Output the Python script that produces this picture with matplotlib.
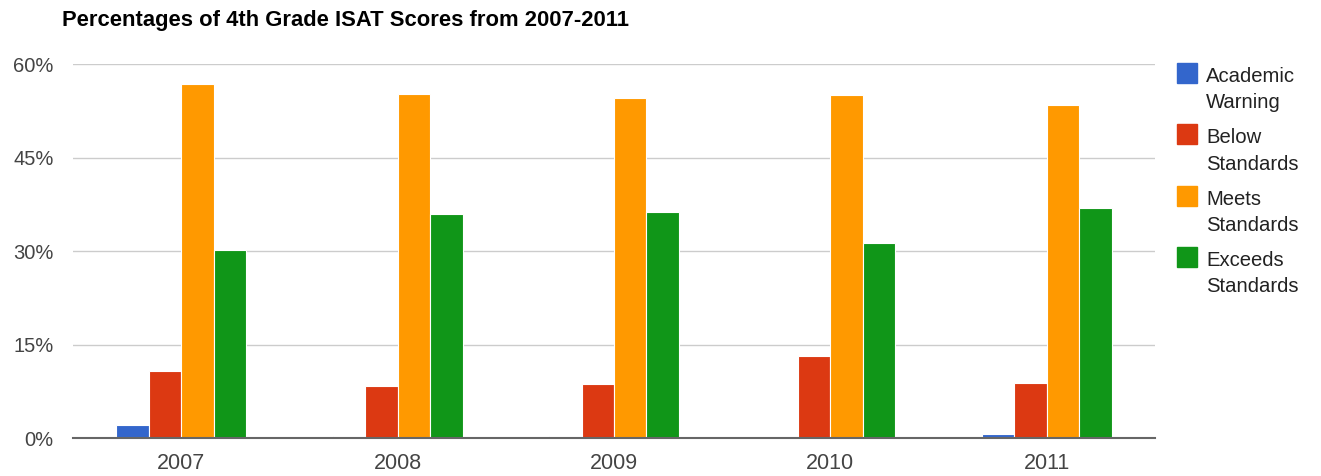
import numpy as np
import matplotlib
matplotlib.use('Agg')
import matplotlib.pyplot as plt
from matplotlib.patches import Rectangle

plt.rcParams['font.family'] = ['Liberation Sans', 'DejaVu Sans']

years = ['2007', '2008', '2009', '2010', '2011']
series = ['Academic\nWarning', 'Below\nStandards', 'Meets\nStandards', 'Exceeds\nStandards']
academic_warning = [2.1, 0.4, 0.4, 0.2, 0.6]
below_standards = [10.8, 8.3, 8.6, 13.2, 8.8]
meets_standards = [56.8, 55.2, 54.6, 55.1, 53.4]
exceeds_standards = [30.2, 35.9, 36.2, 31.3, 36.9]
colors = ['#3366cc', '#dc3912', '#ff9900', '#109618']
yticks = [0, 15, 30, 45, 60]

values = [academic_warning, below_standards, meets_standards, exceeds_standards]

fig = plt.figure(figsize=(13.21, 4.76), dpi=100)
ax = fig.add_axes([0.0553, 0.0798, 0.819, 0.7857])

x = np.arange(len(years))
w = 0.15
for i, vals in enumerate(values):
    ax.bar(x + (i - 1.5) * w, vals, w, color=colors[i], edgecolor='white', linewidth=0.8, zorder=3)

ax.set_xlim(-0.5, len(years) - 0.5)
ax.set_ylim(0, 60)
ax.set_yticks(yticks)
ax.set_yticklabels([str(t) + '%' for t in yticks])
ax.set_xticks(x)
ax.set_xticklabels(years)
ax.tick_params(axis='both', length=0, colors='#444444')
ax.tick_params(axis='y', pad=14, labelsize=14.5)
ax.tick_params(axis='x', pad=11, labelsize=15.5)
ax.grid(axis='y', color='#cccccc', linewidth=1, zorder=0)
for s in ['top', 'right', 'left']:
    ax.spines[s].set_visible(False)
ax.spines['bottom'].set_color('#666666')
ax.spines['bottom'].set_linewidth(1.5)
ax.spines['bottom'].set_zorder(4)

fig.text(0.047, 0.978, 'Percentages of 4th Grade ISAT Scores from 2007-2011',
         fontsize=15.8, fontweight='bold', va='top', ha='left', color='#000000')

# legend drawn by hand so the swatch sits on the first line
W, H = 1321.0, 476.0
for i, label in enumerate(series):
    top = 63 + i * 61.3
    fig.add_artist(Rectangle((1177 / W, 1 - (top + 20) / H), 20 / W, 20 / H,
                             transform=fig.transFigure, color=colors[i]))
    for j, line in enumerate(label.split('\n')):
        fig.text(1206 / W, 1 - (top + 19 + j * 26.5) / H, line, fontsize=14.6,
                 color='#222222', va='baseline', ha='left')

fig.savefig('out.png', dpi=100)
